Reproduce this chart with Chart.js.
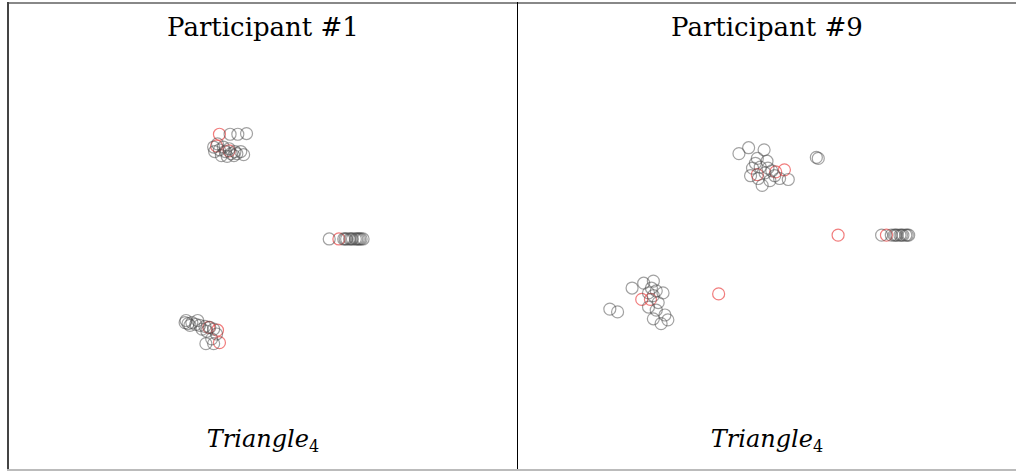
<!DOCTYPE html>
<html>
<head>
<meta charset="utf-8">
<script src="https://cdn.jsdelivr.net/npm/chart.js@4.4.1/dist/chart.umd.min.js"></script>
<style>
body { margin: 0; background: #fff; width: 1016px; height: 471px; overflow: hidden; position: relative; }
.line { position: absolute; }
.title, .foot { position: absolute; text-align: center; font-family: "DejaVu Serif", serif; color: #000; line-height: 1; }
.title { top: 14px; font-size: 26px; }
.foot { top: 427px; font-size: 24px; font-style: italic; }
.foot sub { font-style: normal; font-size: 16px; vertical-align: -5px; }
canvas { position: absolute; }
</style>
</head>
<body>
<div class="line" style="left:7px;top:2px;width:1009px;height:2px;background:#888"></div>
<div class="line" style="left:7px;top:2px;width:2px;height:469px;background:#444"></div>
<div class="line" style="left:517px;top:2px;width:1px;height:469px;background:#000"></div>
<div class="line" style="left:7px;top:469px;width:1009px;height:2px;background:#bbb"></div>

<div class="title" style="left:9px;width:508px">Participant #1</div>
<div class="title" style="left:518px;width:498px">Participant #9</div>
<div class="foot" style="left:9px;width:508px">Triangle<sub>4</sub></div>
<div class="foot" style="left:518px;width:498px">Triangle<sub>4</sub></div>

<canvas id="p1" width="498" height="360" style="left:13px;top:60px"></canvas>
<canvas id="p9" width="498" height="360" style="left:518px;top:60px"></canvas>

<script>
// Participant #1 - x and y positions (arbitrary units 0..10)
var p1GrayX = [4.34, 4.50, 4.68, 4.00, 4.12, 4.24, 4.36, 4.48, 4.62, 4.08, 4.20, 4.32, 4.44, 4.56, 4.16, 4.28, 4.42, 4.02,
  6.39, 6.69, 6.75, 6.81, 6.87, 6.93, 6.99, 7.05, 7.09, 6.72, 6.84, 6.96, 7.02,
  3.41, 3.47, 3.55, 3.63, 3.71, 3.82, 3.92, 4.00, 3.76, 3.86, 4.06, 3.96, 3.84, 4.00, 3.67, 3.51, 3.43];
var p1GrayY = [8.06, 8.06, 8.08, 7.69, 7.61, 7.56, 7.50, 7.50, 7.47, 7.78, 7.69, 7.64, 7.56, 7.56, 7.44, 7.42, 7.44, 7.56,
  5.03, 5.03, 5.03, 5.03, 5.03, 5.03, 5.03, 5.03, 5.03, 5.03, 5.03, 5.03, 5.03,
  2.61, 2.58, 2.61, 2.56, 2.53, 2.50, 2.47, 2.42, 2.42, 2.36, 2.28, 2.14, 2.00, 2.00, 2.67, 2.53, 2.67];
var p1RedX = [4.12, 4.06, 4.32, 6.59, 3.90, 4.08, 4.12];
var p1RedY = [8.06, 7.72, 7.58, 5.03, 2.47, 2.39, 2.03];

// Participant #9
var p9GrayX = [4.42, 4.62, 4.94, 4.80, 5.00, 4.70, 4.86, 4.96, 4.66, 4.82, 5.06, 4.90, 5.16, 5.44, 5.26, 6.02, 6.06, 5.02, 5.10, 4.76,
  7.37, 7.57, 7.63, 7.69, 7.75, 7.81, 7.87, 7.93, 7.66, 7.78, 7.90,
  2.21, 2.45, 2.65, 2.71, 2.61, 2.55, 2.65, 2.85, 1.75, 1.91, 2.71, 2.65, 2.89, 2.81, 2.95, 2.55, 2.75];
var p9GrayY = [7.50, 7.67, 7.61, 7.36, 7.28, 7.08, 7.11, 6.94, 6.86, 6.78, 6.72, 6.58, 6.86, 6.75, 6.78, 7.39, 7.36, 7.08, 7.00, 7.22,
  5.14, 5.14, 5.14, 5.14, 5.14, 5.14, 5.14, 5.14, 5.14, 5.14, 5.14,
  3.61, 3.75, 3.81, 3.53, 3.61, 3.47, 3.39, 3.47, 3.00, 2.92, 2.97, 2.72, 2.83, 2.58, 2.69, 3.06, 3.19];
var p9RedX = [4.80, 5.18, 5.36, 7.47, 6.47, 4.00, 2.41, 2.59];
var p9RedY = [6.89, 6.97, 7.03, 5.14, 5.14, 3.44, 3.28, 3.28];

function pts(xs, ys) {
  var out = [];
  for (var i = 0; i < xs.length; i++) out.push({ x: xs[i], y: ys[i] });
  return out;
}

function makeChart(id, gx, gy, rx, ry) {
  var ctx = document.getElementById(id).getContext("2d");
  return new Chart(ctx, {
    type: "scatter",
    data: {
      datasets: [
        {
          label: "gray",
          data: pts(gx, gy),
          pointRadius: 6,
          pointBorderWidth: 1.2,
          pointBackgroundColor: "rgba(0,0,0,0)",
          pointBorderColor: "rgba(70,70,70,0.5)",
        },
        {
          label: "red",
          data: pts(rx, ry),
          pointRadius: 6,
          pointBorderWidth: 1.2,
          pointBackgroundColor: "rgba(0,0,0,0)",
          pointBorderColor: "rgba(235,70,70,0.7)",
        },
      ],
    },
    options: {
      responsive: false,
      animation: false,
      clip: false,
      layout: { padding: 0 },
      plugins: { legend: { display: false }, tooltip: { enabled: false } },
      scales: {
        x: { display: false, min: 0, max: 10 },
        y: { display: false, min: 0, max: 10 },
      },
    },
  });
}

makeChart("p1", p1GrayX, p1GrayY, p1RedX, p1RedY);
makeChart("p9", p9GrayX, p9GrayY, p9RedX, p9RedY);
</script>
</body>
</html>
